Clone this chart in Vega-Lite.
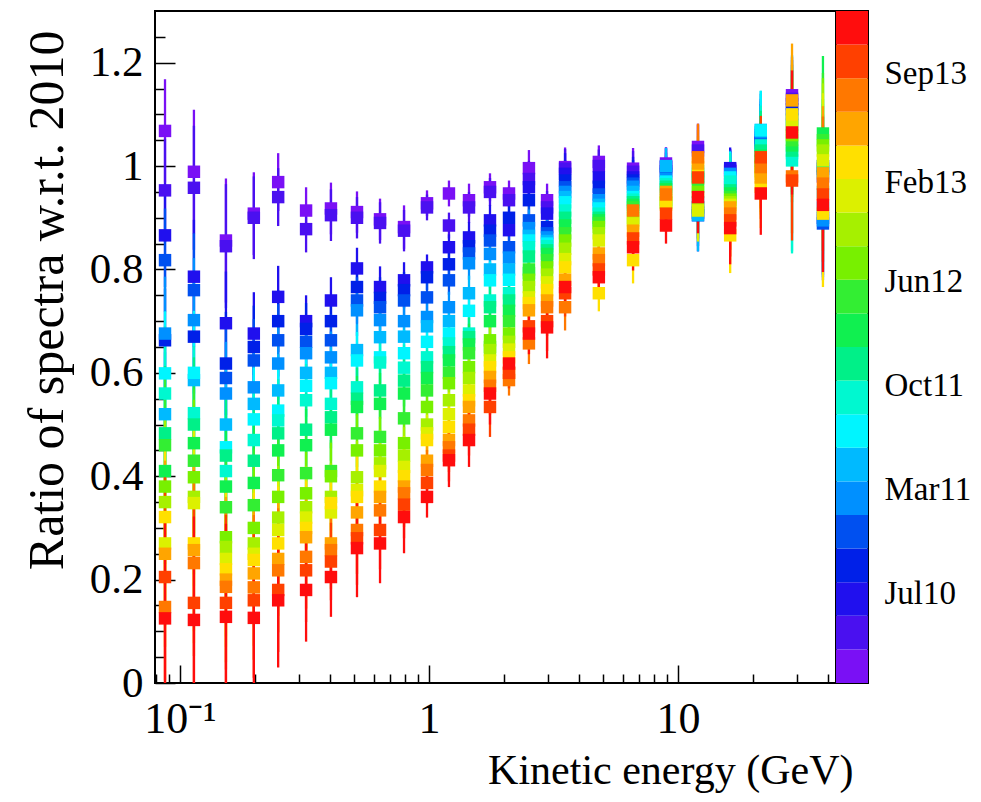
{
"$schema": "https://vega.github.io/schema/vega-lite/v6.json",
"background": "white",
"padding": {"left": 20, "top": 10, "right": 5, "bottom": 5},
"config": {"view": {"stroke": "black", "strokeWidth": 2}, "font": "Liberation Serif"},
"spacing": 0,
"bounds": "flush",
"resolve": {"scale": {"y": "independent", "color": "shared"}},
"hconcat": [
{
"width": 681, "height": 672,
"data": {"values": [
{"e":0.0871,"t":0,"r":1.068,"d":0.1},{"e":0.0871,"t":1,"r":0.953,"d":0.1},{"e":0.0871,"t":2,"r":0.866,"d":0.1},{"e":0.0871,"t":3,"r":0.663,"d":0.1},{"e":0.0871,"t":4,"r":0.818,"d":0.1},{"e":0.0871,"t":5,"r":0.676,"d":0.11},{"e":0.0871,"t":6,"r":0.52,"d":0.12},{"e":0.0871,"t":7,"r":0.599,"d":0.12},{"e":0.0871,"t":8,"r":0.56,"d":0.13},{"e":0.0871,"t":9,"r":0.483,"d":0.13},{"e":0.0871,"t":10,"r":0.41,"d":0.14},{"e":0.0871,"t":11,"r":0.46,"d":0.15},{"e":0.0871,"t":12,"r":0.38,"d":0.15},{"e":0.0871,"t":13,"r":0.35,"d":0.16},{"e":0.0871,"t":14,"r":0.27,"d":0.16},{"e":0.0871,"t":15,"r":0.321,"d":0.17},{"e":0.0871,"t":16,"r":0.25,"d":0.18},{"e":0.0871,"t":17,"r":0.147,"d":0.18},{"e":0.0871,"t":18,"r":0.205,"d":0.2},{"e":0.0871,"t":19,"r":0.125,"d":0.2},
{"e":0.1138,"t":0,"r":0.989,"d":0.12},{"e":0.1138,"t":1,"r":0.958,"d":0.12},{"e":0.1138,"t":2,"r":0.786,"d":0.11},{"e":0.1138,"t":3,"r":0.67,"d":0.11},{"e":0.1138,"t":4,"r":0.76,"d":0.11},{"e":0.1138,"t":5,"r":0.702,"d":0.12},{"e":0.1138,"t":6,"r":0.586,"d":0.12},{"e":0.1138,"t":7,"r":0.6,"d":0.12},{"e":0.1138,"t":8,"r":0.522,"d":0.13},{"e":0.1138,"t":9,"r":0.5,"d":0.13},{"e":0.1138,"t":10,"r":0.464,"d":0.14},{"e":0.1138,"t":11,"r":0.43,"d":0.14},{"e":0.1138,"t":12,"r":0.398,"d":0.15},{"e":0.1138,"t":13,"r":0.36,"d":0.15},{"e":0.1138,"t":14,"r":0.348,"d":0.16},{"e":0.1138,"t":15,"r":0.27,"d":0.17},{"e":0.1138,"t":16,"r":0.257,"d":0.18},{"e":0.1138,"t":17,"r":0.232,"d":0.18},{"e":0.1138,"t":18,"r":0.155,"d":0.2},{"e":0.1138,"t":19,"r":0.122,"d":0.2},
{"e":0.153,"t":0,"r":0.856,"d":0.12},{"e":0.153,"t":1,"r":0.845,"d":0.12},{"e":0.153,"t":2,"r":0.696,"d":0.1},{"e":0.153,"t":3,"r":0.618,"d":0.1},{"e":0.153,"t":4,"r":0.59,"d":0.1},{"e":0.153,"t":5,"r":0.56,"d":0.1},{"e":0.153,"t":6,"r":0.5,"d":0.11},{"e":0.153,"t":7,"r":0.456,"d":0.11},{"e":0.153,"t":8,"r":0.41,"d":0.12},{"e":0.153,"t":9,"r":0.44,"d":0.12},{"e":0.153,"t":10,"r":0.38,"d":0.13},{"e":0.153,"t":11,"r":0.34,"d":0.13},{"e":0.153,"t":12,"r":0.282,"d":0.14},{"e":0.153,"t":13,"r":0.263,"d":0.14},{"e":0.153,"t":14,"r":0.24,"d":0.15},{"e":0.153,"t":15,"r":0.22,"d":0.15},{"e":0.153,"t":16,"r":0.2,"d":0.16},{"e":0.153,"t":17,"r":0.186,"d":0.16},{"e":0.153,"t":18,"r":0.155,"d":0.17},{"e":0.153,"t":19,"r":0.128,"d":0.18},
{"e":0.198,"t":0,"r":0.908,"d":0.08},{"e":0.198,"t":1,"r":0.9,"d":0.08},{"e":0.198,"t":2,"r":0.676,"d":0.08},{"e":0.198,"t":3,"r":0.65,"d":0.08},{"e":0.198,"t":4,"r":0.624,"d":0.08},{"e":0.198,"t":5,"r":0.572,"d":0.09},{"e":0.198,"t":6,"r":0.54,"d":0.09},{"e":0.198,"t":7,"r":0.51,"d":0.1},{"e":0.198,"t":8,"r":0.47,"d":0.1},{"e":0.198,"t":9,"r":0.43,"d":0.1},{"e":0.198,"t":10,"r":0.387,"d":0.11},{"e":0.198,"t":11,"r":0.344,"d":0.11},{"e":0.198,"t":12,"r":0.3,"d":0.12},{"e":0.198,"t":13,"r":0.27,"d":0.12},{"e":0.198,"t":14,"r":0.25,"d":0.13},{"e":0.198,"t":15,"r":0.238,"d":0.13},{"e":0.198,"t":16,"r":0.212,"d":0.14},{"e":0.198,"t":17,"r":0.185,"d":0.14},{"e":0.198,"t":18,"r":0.16,"d":0.15},{"e":0.198,"t":19,"r":0.126,"d":0.15},
{"e":0.248,"t":0,"r":0.969,"d":0.056},{"e":0.248,"t":1,"r":0.94,"d":0.056},{"e":0.248,"t":2,"r":0.747,"d":0.06},{"e":0.248,"t":3,"r":0.7,"d":0.06},{"e":0.248,"t":4,"r":0.663,"d":0.07},{"e":0.248,"t":5,"r":0.618,"d":0.07},{"e":0.248,"t":6,"r":0.566,"d":0.07},{"e":0.248,"t":7,"r":0.527,"d":0.08},{"e":0.248,"t":8,"r":0.508,"d":0.08},{"e":0.248,"t":9,"r":0.483,"d":0.08},{"e":0.248,"t":10,"r":0.45,"d":0.09},{"e":0.248,"t":11,"r":0.402,"d":0.09},{"e":0.248,"t":12,"r":0.36,"d":0.1},{"e":0.248,"t":13,"r":0.32,"d":0.1},{"e":0.248,"t":14,"r":0.296,"d":0.1},{"e":0.248,"t":15,"r":0.27,"d":0.11},{"e":0.248,"t":16,"r":0.24,"d":0.11},{"e":0.248,"t":17,"r":0.218,"d":0.12},{"e":0.248,"t":18,"r":0.18,"d":0.12},{"e":0.248,"t":19,"r":0.16,"d":0.13},
{"e":0.321,"t":0,"r":0.914,"d":0.045},{"e":0.321,"t":1,"r":0.878,"d":0.045},{"e":0.321,"t":2,"r":0.7,"d":0.05},{"e":0.321,"t":3,"r":0.685,"d":0.05},{"e":0.321,"t":4,"r":0.66,"d":0.05},{"e":0.321,"t":5,"r":0.638,"d":0.06},{"e":0.321,"t":6,"r":0.6,"d":0.06},{"e":0.321,"t":7,"r":0.575,"d":0.06},{"e":0.321,"t":8,"r":0.547,"d":0.07},{"e":0.321,"t":9,"r":0.49,"d":0.07},{"e":0.321,"t":10,"r":0.46,"d":0.07},{"e":0.321,"t":11,"r":0.406,"d":0.08},{"e":0.321,"t":12,"r":0.367,"d":0.08},{"e":0.321,"t":13,"r":0.34,"d":0.08},{"e":0.321,"t":14,"r":0.32,"d":0.09},{"e":0.321,"t":15,"r":0.3,"d":0.09},{"e":0.321,"t":16,"r":0.282,"d":0.09},{"e":0.321,"t":17,"r":0.244,"d":0.1},{"e":0.321,"t":18,"r":0.218,"d":0.1},{"e":0.321,"t":19,"r":0.18,"d":0.1},
{"e":0.404,"t":0,"r":0.918,"d":0.05},{"e":0.404,"t":1,"r":0.905,"d":0.05},{"e":0.404,"t":2,"r":0.74,"d":0.045},{"e":0.404,"t":3,"r":0.7,"d":0.045},{"e":0.404,"t":4,"r":0.663,"d":0.05},{"e":0.404,"t":5,"r":0.63,"d":0.05},{"e":0.404,"t":6,"r":0.6,"d":0.05},{"e":0.404,"t":7,"r":0.58,"d":0.055},{"e":0.404,"t":8,"r":0.54,"d":0.055},{"e":0.404,"t":9,"r":0.514,"d":0.06},{"e":0.404,"t":10,"r":0.49,"d":0.06},{"e":0.404,"t":11,"r":0.41,"d":0.06},{"e":0.404,"t":12,"r":0.4,"d":0.065},{"e":0.404,"t":13,"r":0.36,"d":0.065},{"e":0.404,"t":14,"r":0.33,"d":0.07},{"e":0.404,"t":15,"r":0.348,"d":0.07},{"e":0.404,"t":16,"r":0.27,"d":0.07},{"e":0.404,"t":17,"r":0.257,"d":0.075},{"e":0.404,"t":18,"r":0.235,"d":0.075},{"e":0.404,"t":19,"r":0.205,"d":0.077},
{"e":0.514,"t":0,"r":0.911,"d":0.04},{"e":0.514,"t":1,"r":0.9,"d":0.04},{"e":0.514,"t":2,"r":0.802,"d":0.04},{"e":0.514,"t":3,"r":0.766,"d":0.045},{"e":0.514,"t":4,"r":0.74,"d":0.045},{"e":0.514,"t":5,"r":0.721,"d":0.05},{"e":0.514,"t":6,"r":0.644,"d":0.05},{"e":0.514,"t":7,"r":0.624,"d":0.055},{"e":0.514,"t":8,"r":0.572,"d":0.055},{"e":0.514,"t":9,"r":0.55,"d":0.06},{"e":0.514,"t":10,"r":0.534,"d":0.06},{"e":0.514,"t":11,"r":0.483,"d":0.065},{"e":0.514,"t":12,"r":0.45,"d":0.07},{"e":0.514,"t":13,"r":0.398,"d":0.07},{"e":0.514,"t":14,"r":0.373,"d":0.075},{"e":0.514,"t":15,"r":0.36,"d":0.08},{"e":0.514,"t":16,"r":0.33,"d":0.08},{"e":0.514,"t":17,"r":0.296,"d":0.085},{"e":0.514,"t":18,"r":0.28,"d":0.09},{"e":0.514,"t":19,"r":0.261,"d":0.095},
{"e":0.636,"t":0,"r":0.897,"d":0.04},{"e":0.636,"t":1,"r":0.89,"d":0.04},{"e":0.636,"t":2,"r":0.766,"d":0.04},{"e":0.636,"t":3,"r":0.745,"d":0.04},{"e":0.636,"t":4,"r":0.727,"d":0.045},{"e":0.636,"t":5,"r":0.702,"d":0.045},{"e":0.636,"t":6,"r":0.669,"d":0.05},{"e":0.636,"t":7,"r":0.63,"d":0.05},{"e":0.636,"t":8,"r":0.62,"d":0.055},{"e":0.636,"t":9,"r":0.566,"d":0.055},{"e":0.636,"t":10,"r":0.54,"d":0.06},{"e":0.636,"t":11,"r":0.476,"d":0.06},{"e":0.636,"t":12,"r":0.45,"d":0.065},{"e":0.636,"t":13,"r":0.425,"d":0.065},{"e":0.636,"t":14,"r":0.41,"d":0.07},{"e":0.636,"t":15,"r":0.38,"d":0.07},{"e":0.636,"t":16,"r":0.36,"d":0.072},{"e":0.636,"t":17,"r":0.334,"d":0.074},{"e":0.636,"t":18,"r":0.296,"d":0.076},{"e":0.636,"t":19,"r":0.27,"d":0.077},
{"e":0.794,"t":0,"r":0.882,"d":0.042},{"e":0.794,"t":1,"r":0.875,"d":0.04},{"e":0.794,"t":2,"r":0.779,"d":0.035},{"e":0.794,"t":3,"r":0.76,"d":0.035},{"e":0.794,"t":4,"r":0.74,"d":0.04},{"e":0.794,"t":5,"r":0.7,"d":0.04},{"e":0.794,"t":6,"r":0.67,"d":0.04},{"e":0.794,"t":7,"r":0.638,"d":0.045},{"e":0.794,"t":8,"r":0.61,"d":0.045},{"e":0.794,"t":9,"r":0.585,"d":0.05},{"e":0.794,"t":10,"r":0.56,"d":0.05},{"e":0.794,"t":11,"r":0.512,"d":0.05},{"e":0.794,"t":12,"r":0.464,"d":0.055},{"e":0.794,"t":13,"r":0.44,"d":0.055},{"e":0.794,"t":14,"r":0.418,"d":0.06},{"e":0.794,"t":15,"r":0.4,"d":0.06},{"e":0.794,"t":16,"r":0.38,"d":0.06},{"e":0.794,"t":17,"r":0.367,"d":0.065},{"e":0.794,"t":18,"r":0.345,"d":0.065},{"e":0.794,"t":19,"r":0.321,"d":0.07},
{"e":0.982,"t":0,"r":0.928,"d":0.025},{"e":0.982,"t":1,"r":0.92,"d":0.025},{"e":0.982,"t":2,"r":0.804,"d":0.025},{"e":0.982,"t":3,"r":0.785,"d":0.025},{"e":0.982,"t":4,"r":0.746,"d":0.028},{"e":0.982,"t":5,"r":0.708,"d":0.028},{"e":0.982,"t":6,"r":0.69,"d":0.03},{"e":0.982,"t":7,"r":0.66,"d":0.03},{"e":0.982,"t":8,"r":0.63,"d":0.03},{"e":0.982,"t":9,"r":0.611,"d":0.032},{"e":0.982,"t":10,"r":0.59,"d":0.032},{"e":0.982,"t":11,"r":0.566,"d":0.034},{"e":0.982,"t":12,"r":0.534,"d":0.034},{"e":0.982,"t":13,"r":0.5,"d":0.035},{"e":0.982,"t":14,"r":0.483,"d":0.036},{"e":0.982,"t":15,"r":0.47,"d":0.037},{"e":0.982,"t":16,"r":0.43,"d":0.038},{"e":0.982,"t":17,"r":0.412,"d":0.039},{"e":0.982,"t":18,"r":0.387,"d":0.04},{"e":0.982,"t":19,"r":0.36,"d":0.04},
{"e":1.203,"t":0,"r":0.947,"d":0.025},{"e":1.203,"t":1,"r":0.885,"d":0.025},{"e":1.203,"t":2,"r":0.843,"d":0.025},{"e":1.203,"t":3,"r":0.81,"d":0.028},{"e":1.203,"t":4,"r":0.779,"d":0.028},{"e":1.203,"t":5,"r":0.727,"d":0.03},{"e":1.203,"t":6,"r":0.7,"d":0.03},{"e":1.203,"t":7,"r":0.676,"d":0.032},{"e":1.203,"t":8,"r":0.657,"d":0.032},{"e":1.203,"t":9,"r":0.64,"d":0.034},{"e":1.203,"t":10,"r":0.624,"d":0.035},{"e":1.203,"t":11,"r":0.6,"d":0.036},{"e":1.203,"t":12,"r":0.58,"d":0.038},{"e":1.203,"t":13,"r":0.547,"d":0.04},{"e":1.203,"t":14,"r":0.52,"d":0.042},{"e":1.203,"t":15,"r":0.495,"d":0.044},{"e":1.203,"t":16,"r":0.47,"d":0.046},{"e":1.203,"t":17,"r":0.456,"d":0.048},{"e":1.203,"t":18,"r":0.44,"d":0.05},{"e":1.203,"t":19,"r":0.431,"d":0.052},
{"e":1.448,"t":0,"r":0.934,"d":0.032},{"e":1.448,"t":1,"r":0.92,"d":0.03},{"e":1.448,"t":2,"r":0.862,"d":0.03},{"e":1.448,"t":3,"r":0.845,"d":0.03},{"e":1.448,"t":4,"r":0.831,"d":0.032},{"e":1.448,"t":5,"r":0.812,"d":0.032},{"e":1.448,"t":6,"r":0.754,"d":0.034},{"e":1.448,"t":7,"r":0.72,"d":0.035},{"e":1.448,"t":8,"r":0.676,"d":0.036},{"e":1.448,"t":9,"r":0.669,"d":0.038},{"e":1.448,"t":10,"r":0.655,"d":0.04},{"e":1.448,"t":11,"r":0.638,"d":0.04},{"e":1.448,"t":12,"r":0.611,"d":0.042},{"e":1.448,"t":13,"r":0.59,"d":0.044},{"e":1.448,"t":14,"r":0.566,"d":0.045},{"e":1.448,"t":15,"r":0.547,"d":0.046},{"e":1.448,"t":16,"r":0.534,"d":0.048},{"e":1.448,"t":17,"r":0.508,"d":0.05},{"e":1.448,"t":18,"r":0.49,"d":0.05},{"e":1.448,"t":19,"r":0.47,"d":0.052},
{"e":1.758,"t":0,"r":0.959,"d":0.027},{"e":1.758,"t":1,"r":0.95,"d":0.027},{"e":1.758,"t":2,"r":0.895,"d":0.03},{"e":1.758,"t":3,"r":0.875,"d":0.03},{"e":1.758,"t":4,"r":0.856,"d":0.032},{"e":1.758,"t":5,"r":0.83,"d":0.034},{"e":1.758,"t":6,"r":0.8,"d":0.035},{"e":1.758,"t":7,"r":0.779,"d":0.036},{"e":1.758,"t":8,"r":0.74,"d":0.038},{"e":1.758,"t":9,"r":0.727,"d":0.04},{"e":1.758,"t":10,"r":0.7,"d":0.042},{"e":1.758,"t":11,"r":0.65,"d":0.044},{"e":1.758,"t":12,"r":0.663,"d":0.046},{"e":1.758,"t":13,"r":0.644,"d":0.048},{"e":1.758,"t":14,"r":0.624,"d":0.05},{"e":1.758,"t":15,"r":0.611,"d":0.052},{"e":1.758,"t":16,"r":0.592,"d":0.054},{"e":1.758,"t":17,"r":0.575,"d":0.056},{"e":1.758,"t":18,"r":0.534,"d":0.058},{"e":1.758,"t":19,"r":0.56,"d":0.06},
{"e":2.096,"t":0,"r":0.947,"d":0.025},{"e":2.096,"t":1,"r":0.934,"d":0.025},{"e":2.096,"t":2,"r":0.876,"d":0.025},{"e":2.096,"t":3,"r":0.9,"d":0.025},{"e":2.096,"t":4,"r":0.843,"d":0.026},{"e":2.096,"t":5,"r":0.823,"d":0.026},{"e":2.096,"t":6,"r":0.8,"d":0.027},{"e":2.096,"t":7,"r":0.78,"d":0.027},{"e":2.096,"t":8,"r":0.754,"d":0.028},{"e":2.096,"t":9,"r":0.74,"d":0.028},{"e":2.096,"t":10,"r":0.72,"d":0.029},{"e":2.096,"t":11,"r":0.7,"d":0.029},{"e":2.096,"t":12,"r":0.676,"d":0.03},{"e":2.096,"t":13,"r":0.66,"d":0.03},{"e":2.096,"t":14,"r":0.645,"d":0.03},{"e":2.096,"t":15,"r":0.63,"d":0.03},{"e":2.096,"t":16,"r":0.6,"d":0.03},{"e":2.096,"t":17,"r":0.586,"d":0.03},{"e":2.096,"t":18,"r":0.6,"d":0.03},{"e":2.096,"t":19,"r":0.618,"d":0.03},
{"e":2.52,"t":0,"r":0.996,"d":0.035},{"e":2.52,"t":1,"r":0.975,"d":0.035},{"e":2.52,"t":2,"r":0.959,"d":0.035},{"e":2.52,"t":3,"r":0.934,"d":0.035},{"e":2.52,"t":4,"r":0.895,"d":0.036},{"e":2.52,"t":5,"r":0.88,"d":0.036},{"e":2.52,"t":6,"r":0.865,"d":0.037},{"e":2.52,"t":7,"r":0.856,"d":0.037},{"e":2.52,"t":8,"r":0.843,"d":0.038},{"e":2.52,"t":9,"r":0.825,"d":0.038},{"e":2.52,"t":10,"r":0.793,"d":0.039},{"e":2.52,"t":11,"r":0.8,"d":0.039},{"e":2.52,"t":12,"r":0.78,"d":0.04},{"e":2.52,"t":13,"r":0.766,"d":0.04},{"e":2.52,"t":14,"r":0.746,"d":0.04},{"e":2.52,"t":15,"r":0.735,"d":0.04},{"e":2.52,"t":16,"r":0.721,"d":0.04},{"e":2.52,"t":17,"r":0.657,"d":0.04},{"e":2.52,"t":18,"r":0.69,"d":0.04},{"e":2.52,"t":19,"r":0.676,"d":0.04},
{"e":2.98,"t":0,"r":0.934,"d":0.032},{"e":2.98,"t":1,"r":0.92,"d":0.032},{"e":2.98,"t":2,"r":0.908,"d":0.033},{"e":2.98,"t":3,"r":0.882,"d":0.034},{"e":2.98,"t":4,"r":0.87,"d":0.035},{"e":2.98,"t":5,"r":0.862,"d":0.036},{"e":2.98,"t":6,"r":0.855,"d":0.037},{"e":2.98,"t":7,"r":0.85,"d":0.038},{"e":2.98,"t":8,"r":0.845,"d":0.04},{"e":2.98,"t":9,"r":0.837,"d":0.041},{"e":2.98,"t":10,"r":0.83,"d":0.042},{"e":2.98,"t":11,"r":0.818,"d":0.044},{"e":2.98,"t":12,"r":0.804,"d":0.046},{"e":2.98,"t":13,"r":0.79,"d":0.048},{"e":2.98,"t":14,"r":0.775,"d":0.05},{"e":2.98,"t":15,"r":0.76,"d":0.052},{"e":2.98,"t":16,"r":0.74,"d":0.054},{"e":2.98,"t":17,"r":0.727,"d":0.056},{"e":2.98,"t":18,"r":0.7,"d":0.058},{"e":2.98,"t":19,"r":0.688,"d":0.06},
{"e":3.52,"t":0,"r":0.998,"d":0.038},{"e":3.52,"t":1,"r":0.995,"d":0.038},{"e":3.52,"t":2,"r":0.985,"d":0.04},{"e":3.52,"t":3,"r":0.972,"d":0.04},{"e":3.52,"t":4,"r":0.959,"d":0.04},{"e":3.52,"t":5,"r":0.95,"d":0.04},{"e":3.52,"t":6,"r":0.94,"d":0.04},{"e":3.52,"t":7,"r":0.93,"d":0.04},{"e":3.52,"t":8,"r":0.914,"d":0.042},{"e":3.52,"t":9,"r":0.9,"d":0.042},{"e":3.52,"t":10,"r":0.885,"d":0.042},{"e":3.52,"t":11,"r":0.87,"d":0.042},{"e":3.52,"t":12,"r":0.856,"d":0.043},{"e":3.52,"t":13,"r":0.84,"d":0.043},{"e":3.52,"t":14,"r":0.82,"d":0.044},{"e":3.52,"t":15,"r":0.804,"d":0.044},{"e":3.52,"t":16,"r":0.78,"d":0.045},{"e":3.52,"t":17,"r":0.727,"d":0.045},{"e":3.52,"t":18,"r":0.754,"d":0.045},{"e":3.52,"t":19,"r":0.766,"d":0.045},
{"e":4.81,"t":0,"r":1.008,"d":0.032},{"e":4.81,"t":1,"r":1.0,"d":0.032},{"e":4.81,"t":2,"r":0.978,"d":0.033},{"e":4.81,"t":3,"r":0.96,"d":0.033},{"e":4.81,"t":4,"r":0.945,"d":0.034},{"e":4.81,"t":5,"r":0.934,"d":0.034},{"e":4.81,"t":6,"r":0.925,"d":0.034},{"e":4.81,"t":7,"r":0.918,"d":0.035},{"e":4.81,"t":8,"r":0.908,"d":0.035},{"e":4.81,"t":9,"r":0.9,"d":0.035},{"e":4.81,"t":10,"r":0.895,"d":0.035},{"e":4.81,"t":11,"r":0.89,"d":0.035},{"e":4.81,"t":12,"r":0.882,"d":0.035},{"e":4.81,"t":13,"r":0.87,"d":0.035},{"e":4.81,"t":14,"r":0.856,"d":0.035},{"e":4.81,"t":15,"r":0.754,"d":0.035},{"e":4.81,"t":16,"r":0.831,"d":0.035},{"e":4.81,"t":17,"r":0.818,"d":0.035},{"e":4.81,"t":18,"r":0.8,"d":0.035},{"e":4.81,"t":19,"r":0.785,"d":0.035},
{"e":6.6,"t":0,"r":0.995,"d":0.04},{"e":6.6,"t":1,"r":0.989,"d":0.04},{"e":6.6,"t":2,"r":0.978,"d":0.04},{"e":6.6,"t":3,"r":0.972,"d":0.04},{"e":6.6,"t":4,"r":0.966,"d":0.04},{"e":6.6,"t":5,"r":0.96,"d":0.04},{"e":6.6,"t":6,"r":0.95,"d":0.042},{"e":6.6,"t":7,"r":0.94,"d":0.042},{"e":6.6,"t":8,"r":0.935,"d":0.042},{"e":6.6,"t":9,"r":0.93,"d":0.042},{"e":6.6,"t":10,"r":0.925,"d":0.043},{"e":6.6,"t":11,"r":0.92,"d":0.043},{"e":6.6,"t":12,"r":0.9,"d":0.043},{"e":6.6,"t":13,"r":0.895,"d":0.044},{"e":6.6,"t":14,"r":0.889,"d":0.044},{"e":6.6,"t":15,"r":0.818,"d":0.045},{"e":6.6,"t":16,"r":0.875,"d":0.045},{"e":6.6,"t":17,"r":0.914,"d":0.045},{"e":6.6,"t":18,"r":0.86,"d":0.045},{"e":6.6,"t":19,"r":0.843,"d":0.045},
{"e":8.95,"t":0,"r":1.005,"d":0.031},{"e":8.95,"t":1,"r":1.0,"d":0.036},{"e":8.95,"t":2,"r":0.998,"d":0.036},{"e":8.95,"t":3,"r":0.99,"d":0.036},{"e":8.95,"t":4,"r":0.985,"d":0.035},{"e":8.95,"t":5,"r":0.975,"d":0.035},{"e":8.95,"t":6,"r":1.0,"d":0.035},{"e":8.95,"t":7,"r":0.97,"d":0.035},{"e":8.95,"t":8,"r":0.965,"d":0.035},{"e":8.95,"t":9,"r":0.96,"d":0.035},{"e":8.95,"t":10,"r":0.955,"d":0.035},{"e":8.95,"t":11,"r":0.93,"d":0.035},{"e":8.95,"t":12,"r":0.935,"d":0.035},{"e":8.95,"t":13,"r":0.928,"d":0.035},{"e":8.95,"t":14,"r":0.93,"d":0.035},{"e":8.95,"t":15,"r":0.925,"d":0.035},{"e":8.95,"t":16,"r":0.95,"d":0.035},{"e":8.95,"t":17,"r":0.945,"d":0.035},{"e":8.95,"t":18,"r":0.908,"d":0.035},{"e":8.95,"t":19,"r":0.885,"d":0.035},
{"e":12.03,"t":0,"r":1.037,"d":0.045},{"e":12.03,"t":1,"r":1.03,"d":0.05},{"e":12.03,"t":2,"r":0.905,"d":0.07},{"e":12.03,"t":3,"r":0.91,"d":0.065},{"e":12.03,"t":4,"r":0.92,"d":0.06},{"e":12.03,"t":5,"r":0.93,"d":0.06},{"e":12.03,"t":6,"r":0.905,"d":0.07},{"e":12.03,"t":7,"r":0.99,"d":0.055},{"e":12.03,"t":8,"r":0.985,"d":0.055},{"e":12.03,"t":9,"r":0.98,"d":0.055},{"e":12.03,"t":10,"r":0.975,"d":0.055},{"e":12.03,"t":11,"r":0.96,"d":0.06},{"e":12.03,"t":12,"r":0.95,"d":0.06},{"e":12.03,"t":13,"r":0.92,"d":0.06},{"e":12.03,"t":14,"r":0.914,"d":0.06},{"e":12.03,"t":15,"r":0.998,"d":0.06},{"e":12.03,"t":16,"r":1.005,"d":0.065},{"e":12.03,"t":17,"r":1.017,"d":0.065},{"e":12.03,"t":18,"r":0.978,"d":0.07},{"e":12.03,"t":19,"r":0.94,"d":0.07},
{"e":16.2,"t":0,"r":0.993,"d":0.04},{"e":16.2,"t":1,"r":0.99,"d":0.04},{"e":16.2,"t":2,"r":0.996,"d":0.04},{"e":16.2,"t":3,"r":0.966,"d":0.045},{"e":16.2,"t":4,"r":0.96,"d":0.05},{"e":16.2,"t":5,"r":0.985,"d":0.045},{"e":16.2,"t":6,"r":0.975,"d":0.05},{"e":16.2,"t":7,"r":0.978,"d":0.05},{"e":16.2,"t":8,"r":0.97,"d":0.055},{"e":16.2,"t":9,"r":0.953,"d":0.055},{"e":16.2,"t":10,"r":0.947,"d":0.06},{"e":16.2,"t":11,"r":0.94,"d":0.06},{"e":16.2,"t":12,"r":0.935,"d":0.06},{"e":16.2,"t":13,"r":0.93,"d":0.065},{"e":16.2,"t":14,"r":0.925,"d":0.065},{"e":16.2,"t":15,"r":0.866,"d":0.073},{"e":16.2,"t":16,"r":0.92,"d":0.065},{"e":16.2,"t":17,"r":0.908,"d":0.07},{"e":16.2,"t":18,"r":0.895,"d":0.07},{"e":16.2,"t":19,"r":0.88,"d":0.07},
{"e":21.5,"t":0,"r":1.06,"d":0.07},{"e":21.5,"t":1,"r":1.055,"d":0.07},{"e":21.5,"t":2,"r":1.05,"d":0.07},{"e":21.5,"t":3,"r":1.045,"d":0.075},{"e":21.5,"t":4,"r":1.04,"d":0.075},{"e":21.5,"t":5,"r":1.065,"d":0.075},{"e":21.5,"t":6,"r":1.07,"d":0.075},{"e":21.5,"t":7,"r":1.069,"d":0.077},{"e":21.5,"t":8,"r":1.04,"d":0.077},{"e":21.5,"t":9,"r":1.03,"d":0.077},{"e":21.5,"t":10,"r":1.02,"d":0.078},{"e":21.5,"t":11,"r":1.01,"d":0.078},{"e":21.5,"t":12,"r":1.0,"d":0.078},{"e":21.5,"t":13,"r":0.99,"d":0.079},{"e":21.5,"t":14,"r":0.985,"d":0.079},{"e":21.5,"t":15,"r":0.96,"d":0.08},{"e":21.5,"t":16,"r":0.978,"d":0.08},{"e":21.5,"t":17,"r":0.998,"d":0.08},{"e":21.5,"t":18,"r":1.017,"d":0.08},{"e":21.5,"t":19,"r":0.947,"d":0.08},
{"e":28.7,"t":0,"r":1.137,"d":0.075},{"e":28.7,"t":1,"r":1.13,"d":0.075},{"e":28.7,"t":2,"r":1.12,"d":0.076},{"e":28.7,"t":3,"r":1.11,"d":0.076},{"e":28.7,"t":4,"r":1.1,"d":0.077},{"e":28.7,"t":5,"r":1.09,"d":0.077},{"e":28.7,"t":6,"r":1.08,"d":0.078},{"e":28.7,"t":7,"r":1.025,"d":0.19},{"e":28.7,"t":8,"r":1.011,"d":0.18},{"e":28.7,"t":9,"r":1.03,"d":0.1},{"e":28.7,"t":10,"r":1.04,"d":0.1},{"e":28.7,"t":11,"r":1.05,"d":0.1},{"e":28.7,"t":12,"r":1.06,"d":0.1},{"e":28.7,"t":13,"r":1.075,"d":0.1},{"e":28.7,"t":14,"r":1.088,"d":0.11},{"e":28.7,"t":15,"r":1.1,"d":0.11},{"e":28.7,"t":16,"r":1.127,"d":0.11},{"e":28.7,"t":17,"r":0.98,"d":0.11},{"e":28.7,"t":18,"r":0.972,"d":0.116},{"e":28.7,"t":19,"r":1.065,"d":0.12},
{"e":38.2,"t":0,"r":1.0,"d":0.1},{"e":38.2,"t":1,"r":0.995,"d":0.1},{"e":38.2,"t":2,"r":0.98,"d":0.1},{"e":38.2,"t":3,"r":0.9,"d":0.11},{"e":38.2,"t":4,"r":0.889,"d":0.11},{"e":38.2,"t":5,"r":0.895,"d":0.11},{"e":38.2,"t":6,"r":0.92,"d":0.12},{"e":38.2,"t":7,"r":0.95,"d":0.12},{"e":38.2,"t":8,"r":0.99,"d":0.13},{"e":38.2,"t":9,"r":1.0,"d":0.13},{"e":38.2,"t":10,"r":1.063,"d":0.15},{"e":38.2,"t":11,"r":1.05,"d":0.13},{"e":38.2,"t":12,"r":1.04,"d":0.13},{"e":38.2,"t":13,"r":1.03,"d":0.13},{"e":38.2,"t":14,"r":1.011,"d":0.13},{"e":38.2,"t":15,"r":0.908,"d":0.142},{"e":38.2,"t":16,"r":0.986,"d":0.13},{"e":38.2,"t":17,"r":0.966,"d":0.13},{"e":38.2,"t":18,"r":0.945,"d":0.13},{"e":38.2,"t":19,"r":0.925,"d":0.13}
]},
"resolve": {"axis": {"x": "independent", "y": "independent"}},
"layer": [
{
"mark": {"type": "errorbar", "ticks": false, "thickness": 2.3, "clip": true},
"encoding": {
"x": {"field": "e", "type": "quantitative", "scale": {"type": "log", "domain": [0.0794, 43.1], "nice": false},
"axis": {"orient": "bottom", "values": [0.1, 1, 10], "tickSize": -18, "tickWidth": 1.5, "tickColor": "black", "domain": false, "grid": false,
"labelFont": "Liberation Serif", "labelFontSize": 44, "labelColor": "black", "labelPadding": 32,
"labelExpr": "datum.value < 0.5 ? '10⁻¹' : datum.value < 5 ? '1' : '10'",
"title": "Kinetic energy (GeV)", "titleFont": "Liberation Serif", "titleFontSize": 42, "titleFontWeight": "normal", "titleColor": "black",
"titleAlign": "right", "titleBaseline": "alphabetic", "titleX": 698, "titleY": 100}},
"y": {"field": "r", "type": "quantitative", "scale": {"domain": [0, 1.3], "nice": false, "zero": false},
"axis": {"orient": "left", "values": [0, 0.2, 0.4, 0.6, 0.8, 1, 1.2], "format": "~g", "tickSize": -20, "tickWidth": 1.5, "tickColor": "black", "domain": false, "grid": false,
"labelFont": "Liberation Serif", "labelFontSize": 43, "labelColor": "black", "labelPadding": 32,
"title": "Ratio of spectra w.r.t. 2010", "titleFont": "Liberation Serif", "titleFontSize": 50, "titleFontWeight": "normal", "titleColor": "black",
"titleAlign": "right", "titleBaseline": "middle", "titleAngle": -90, "titleX": -108, "titleY": 19}},
"yError": {"field": "d"},
"color": {"field": "t", "type": "ordinal", "legend": null,
"scale": {"domain": [0,1,2,3,4,5,6,7,8,9,10,11,12,13,14,15,16,17,18,19],
"range": ["#7a10f5","#4a10f0","#2010ee","#0020e8","#0050f0","#0090ff","#00baff","#00f5ff","#00f8d0","#00f088","#10f050","#33ee33","#78f000","#a6f000","#dcf000","#ffe000","#ffa500","#ff7800","#ff4000","#ff0d0d"]}}
}
},
{
"mark": {"type": "square", "size": 155, "filled": true, "opacity": 1},
"encoding": {
"x": {"field": "e", "type": "quantitative", "scale": {"type": "log", "domain": [0.0794, 43.1], "nice": false},
"axis": {"orient": "bottom", "values": [0.08, 0.09, 0.2, 0.3, 0.4, 0.5, 0.6, 0.7, 0.8, 0.9, 2, 3, 4, 5, 6, 7, 8, 9, 20, 30, 40], "tickSize": -9, "tickWidth": 1.5, "tickColor": "black", "domain": false, "grid": false, "labels": false, "title": null}},
"y": {"field": "r", "type": "quantitative", "scale": {"domain": [0, 1.3], "nice": false, "zero": false},
"axis": {"orient": "left", "values": [0.05, 0.1, 0.15, 0.25, 0.3, 0.35, 0.45, 0.5, 0.55, 0.65, 0.7, 0.75, 0.85, 0.9, 0.95, 1.05, 1.1, 1.15, 1.25], "tickSize": -10, "tickWidth": 1.5, "tickColor": "black", "domain": false, "grid": false, "labels": false, "title": null}},
"color": {"field": "t", "type": "ordinal", "legend": null,
"scale": {"domain": [0,1,2,3,4,5,6,7,8,9,10,11,12,13,14,15,16,17,18,19],
"range": ["#7a10f5","#4a10f0","#2010ee","#0020e8","#0050f0","#0090ff","#00baff","#00f5ff","#00f8d0","#00f088","#10f050","#33ee33","#78f000","#a6f000","#dcf000","#ffe000","#ffa500","#ff7800","#ff4000","#ff0d0d"]}}
}
}
]
},
{
"width": 32, "height": 672,
"data": {"values": [
{"t":0,"a":0,"b":1},{"t":1,"a":1,"b":2},{"t":2,"a":2,"b":3},{"t":3,"a":3,"b":4},{"t":4,"a":4,"b":5},{"t":5,"a":5,"b":6},{"t":6,"a":6,"b":7},{"t":7,"a":7,"b":8},{"t":8,"a":8,"b":9},{"t":9,"a":9,"b":10},
{"t":10,"a":10,"b":11},{"t":11,"a":11,"b":12},{"t":12,"a":12,"b":13},{"t":13,"a":13,"b":14},{"t":14,"a":14,"b":15},{"t":15,"a":15,"b":16},{"t":16,"a":16,"b":17},{"t":17,"a":17,"b":18},{"t":18,"a":18,"b":19},{"t":19,"a":19,"b":20}
]},
"mark": {"type": "rect"},
"encoding": {
"y": {"field": "a", "type": "quantitative", "scale": {"domain": [0, 20], "nice": false, "zero": false},
"axis": {"orient": "right", "values": [2.65, 5.75, 8.85, 11.95, 14.9, 18.15], "tickSize": -21, "tickWidth": 2, "tickColor": "black", "domain": false, "grid": false,
"labelFont": "Liberation Serif", "labelFontSize": 33, "labelColor": "black", "labelPadding": 37,
"labelExpr": "datum.value < 4 ? 'Jul10' : datum.value < 7 ? 'Mar11' : datum.value < 10 ? 'Oct11' : datum.value < 13 ? 'Jun12' : datum.value < 16 ? 'Feb13' : 'Sep13'",
"title": null}},
"y2": {"field": "b"},
"color": {"field": "t", "type": "ordinal", "legend": null,
"scale": {"domain": [0,1,2,3,4,5,6,7,8,9,10,11,12,13,14,15,16,17,18,19],
"range": ["#7a10f5","#4a10f0","#2010ee","#0020e8","#0050f0","#0090ff","#00baff","#00f5ff","#00f8d0","#00f088","#10f050","#33ee33","#78f000","#a6f000","#dcf000","#ffe000","#ffa500","#ff7800","#ff4000","#ff0d0d"]}}
}
}
]
}
